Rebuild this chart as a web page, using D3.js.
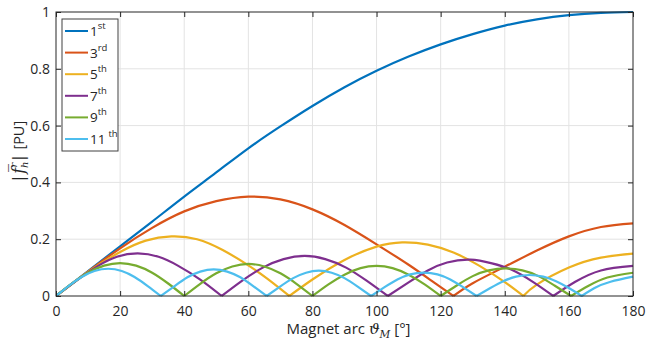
<!DOCTYPE html>
<html>
<head>
<meta charset="utf-8">
<script src="https://cdn.jsdelivr.net/npm/d3@7"></script>
<style>
  body { margin: 0; background: #fff; }
  svg { display: block; font-family: "Open Sans", "Liberation Sans", sans-serif; }
</style>
</head>
<body>
<div id="chart"></div>
<script>
//////////// DATA ////////////

var h1 = [[0,0],[10,0.088],[20,0.175],[30,0.262],[40,0.35],[50,0.435],[60,0.52],[70,0.597],
          [80,0.669],[90,0.735],[100,0.793],[110,0.843],[120,0.886],[130,0.922],[140,0.952],
          [150,0.974],[160,0.989],[170,0.997],[180,1.0]];
var h3 = [[0,0],[10,0.086],[20,0.168],[30,0.24],[40,0.298],[50,0.334],[60,0.35],[70,0.34],
          [80,0.305],[90,0.25],[100,0.182],[110,0.11],[118,0.047],[124,0],[130,0.045],
          [140,0.103],[150,0.16],[160,0.21],[170,0.243],[180,0.256]];
var h5 = [[0,0],[10,0.085],[20,0.155],[28,0.195],[36,0.21],[44,0.2],[52,0.162],[60,0.108],
          [66,0.06],[72.8,0],[80,0.058],[90,0.127],[100,0.174],[108,0.189],[116,0.181],
          [124,0.153],[132,0.107],[140,0.049],[145.8,0],[150,0.04],[160,0.1],[170,0.135],[180,0.149]];
var h7 = [[0,0],[6.5,0.055],[13,0.105],[19,0.138],[25.5,0.15],[32,0.138],[38,0.107],[45,0.058],
          [51.7,0],[58,0.053],[64.5,0.1],[71,0.13],[77.6,0.141],[84,0.13],[90.5,0.1],[97,0.053],
          [103.5,0],[110,0.048],[116,0.09],[122,0.118],[129.3,0.128],[136,0.115],[142,0.093],
          [149,0.048],[155.1,0],[162,0.05],[170,0.09],[180,0.106]];
var h9 = [[0,0],[5,0.044],[10,0.082],[15,0.107],[20,0.116],[25,0.107],[30,0.082],[35,0.044],
          [40,0],[45,0.043],[50,0.08],[55,0.104],[60,0.113],[65,0.104],[70,0.08],[75,0.043],
          [80,0],[85,0.041],[90,0.075],[95,0.098],[100,0.106],[105,0.098],[110,0.075],[115,0.041],
          [120,0],[125,0.037],[130,0.07],[135,0.09],[140.3,0.097],[145.5,0.09],[150.5,0.07],
          [155.5,0.037],[160.7,0],[166,0.035],[172,0.065],[180,0.082]];
var h11 = [[0,0],[4,0.036],[8,0.067],[12,0.088],[16.3,0.096],[20.5,0.088],[24.5,0.067],[28.5,0.036],
           [32.7,0],[37,0.035],[41,0.066],[45,0.086],[49.2,0.094],[53.4,0.086],[57.5,0.066],[61.5,0.035],
           [65.7,0],[70,0.034],[74,0.063],[78,0.082],[82,0.089],[86,0.082],[90,0.063],[94,0.034],
           [98.3,0],[102.5,0.031],[106.5,0.058],[110.5,0.076],[114.7,0.082],[119,0.076],[123,0.058],[127,0.031],
           [131.2,0],[135.5,0.028],[139.5,0.052],[143.5,0.068],[147.6,0.074],[152,0.068],[156,0.052],[160,0.028],
           [164,0],[168,0.028],[173,0.05],[180,0.068]];

var seriesData = [h1, h3, h5, h7, h9, h11];
var orders   = ["1", "3", "5", "7", "9", "11"];
var suffixes = ["st", "rd", "th", "th", "th", "th"];
var colors   = ["#0072BD", "#D95319", "#EDB120", "#7E2F8E", "#77AC30", "#4DBEEE"];

var xTicks = [0, 20, 40, 60, 80, 100, 120, 140, 160, 180];
var yTicks = [0, 0.2, 0.4, 0.6, 0.8, 1];

//////////// LAYOUT ////////////

var W = 646, H = 340;
var margin = {left: 56, right: 13, top: 12, bottom: 44};
var pw = W - margin.left - margin.right,
    ph = H - margin.top - margin.bottom;
var ink = "#262626";

var svg = d3.select("#chart").append("svg").attr("width", W).attr("height", H);
var g = svg.append("g").attr("transform", "translate(" + margin.left + "," + margin.top + ")");

var x = d3.scaleLinear().domain([0, 180]).range([0, pw]);
var y = d3.scaleLinear().domain([0, 1]).range([ph, 0]);

// grid
g.append("g").selectAll("line").data(xTicks.slice(1, -1)).enter().append("line")
  .attr("x1", function(d) { return x(d); }).attr("x2", function(d) { return x(d); })
  .attr("y1", 0).attr("y2", ph)
  .attr("stroke", "#e3e3e3").attr("stroke-width", 1);
g.append("g").selectAll("line").data(yTicks.slice(1, -1)).enter().append("line")
  .attr("y1", function(d) { return y(d); }).attr("y2", function(d) { return y(d); })
  .attr("x1", 0).attr("x2", pw)
  .attr("stroke", "#e3e3e3").attr("stroke-width", 1);

// curves, split at the zeros so the cusps stay sharp
svg.append("clipPath").attr("id", "clip").append("rect")
  .attr("x", margin.left).attr("y", margin.top - 2).attr("width", pw + 1).attr("height", ph + 3);

var line = d3.line()
  .x(function(d) { return x(d[0]); })
  .y(function(d) { return y(d[1]); })
  .curve(d3.curveNatural);

function splitAtZeros(pts) {
  var segs = [], cur = [pts[0]];
  for (var i = 1; i < pts.length; i++) {
    cur.push(pts[i]);
    if (pts[i][1] === 0 && i < pts.length - 1) { segs.push(cur); cur = [pts[i]]; }
  }
  segs.push(cur);
  return segs;
}

var curves = g.append("g").attr("clip-path", "url(#clip)")
  .attr("transform", "translate(" + (-margin.left) + "," + (-margin.top) + ")")
  .append("g").attr("transform", "translate(" + margin.left + "," + margin.top + ")");

seriesData.forEach(function(pts, i) {
  curves.append("path")
    .attr("d", splitAtZeros(pts).map(function(s) { return line(s); }).join(""))
    .attr("fill", "none")
    .attr("stroke", colors[i])
    .attr("stroke-width", 2.2)
    .attr("stroke-linejoin", "round");
});

//////////// AXES ////////////

function styleAxis(sel) {
  sel.select(".domain").remove();
  sel.selectAll(".tick line").attr("stroke", ink);
  sel.selectAll("text").attr("fill", ink).style("font-size", "14px")
     .style("font-family", "'Open Sans', 'Liberation Sans', sans-serif");
}

g.append("g").attr("transform", "translate(0," + ph + ")")
  .call(d3.axisBottom(x).tickValues(xTicks).tickSizeInner(-5).tickSizeOuter(0).tickPadding(10))
  .call(styleAxis);
g.append("g")
  .call(d3.axisLeft(y).tickValues(yTicks).tickFormat(d3.format("")).tickSizeInner(-5).tickSizeOuter(0).tickPadding(6))
  .call(styleAxis);
g.append("g")
  .call(d3.axisTop(x).tickValues(xTicks).tickSizeInner(-5).tickSizeOuter(0).tickFormat(""))
  .call(styleAxis);
g.append("g").attr("transform", "translate(" + pw + ",0)")
  .call(d3.axisRight(y).tickValues(yTicks).tickSizeInner(-5).tickSizeOuter(0).tickFormat(""))
  .call(styleAxis);

g.append("rect").attr("width", pw).attr("height", ph)
  .attr("fill", "none").attr("stroke", ink).attr("stroke-width", 1);

// x label
var xl = svg.append("text")
  .attr("x", margin.left + pw / 2 + 4).attr("y", 334)
  .attr("text-anchor", "middle").attr("fill", ink).style("font-size", "15px");
xl.append("tspan").text("Magnet arc ");
xl.append("tspan").text("\u03D1").style("font-style", "italic").style("font-family", "'DejaVu Serif', serif");
xl.append("tspan").text("M").attr("dy", 4).style("font-size", "10.5px").style("font-style", "italic")
  .style("font-family", "'DejaVu Serif', serif");
xl.append("tspan").text(" [\u00B0]").attr("dy", -4);

// y label
var yl = svg.append("text")
  .attr("transform", "translate(24,152) rotate(-90)")
  .attr("text-anchor", "middle").attr("fill", ink).style("font-size", "14.5px");
yl.append("tspan").text("|").style("font-size", "17px");
yl.append("tspan").text("f\u0305").style("font-size", "16px").style("font-style", "italic")
  .style("font-family", "'DejaVu Serif', serif");
yl.append("tspan").text("h").attr("dy", 4).style("font-size", "10px").style("font-style", "italic")
  .style("font-family", "'DejaVu Serif', serif");
yl.append("tspan").text("r").attr("dx", -6).attr("dy", -11).style("font-size", "10px").style("font-style", "italic")
  .style("font-family", "'DejaVu Serif', serif");
yl.append("tspan").text("|").attr("dy", 7).style("font-size", "17px");
yl.append("tspan").text(" [PU]");

//////////// LEGEND ////////////

var leg = svg.append("g").attr("transform", "translate(62,19)");
leg.append("rect").attr("width", 56).attr("height", 132)
  .attr("fill", "#fff").attr("stroke", "#404040").attr("stroke-width", 1);

orders.forEach(function(o, i) {
  var row = leg.append("g").attr("transform", "translate(0," + (12 + i * 21.6) + ")");
  row.append("line").attr("x1", 3).attr("x2", 26).attr("y1", 0).attr("y2", 0)
    .attr("stroke", colors[i]).attr("stroke-width", 2);
  var t = row.append("text").attr("x", 28).attr("y", 5).attr("fill", ink).style("font-size", "13.5px");
  t.append("tspan").text(o);
  t.append("tspan").text(suffixes[i]).attr("dx", o.length > 1 ? 3 : 0).attr("dy", -7).style("font-size", "9.5px");
});
</script>
</body>
</html>
